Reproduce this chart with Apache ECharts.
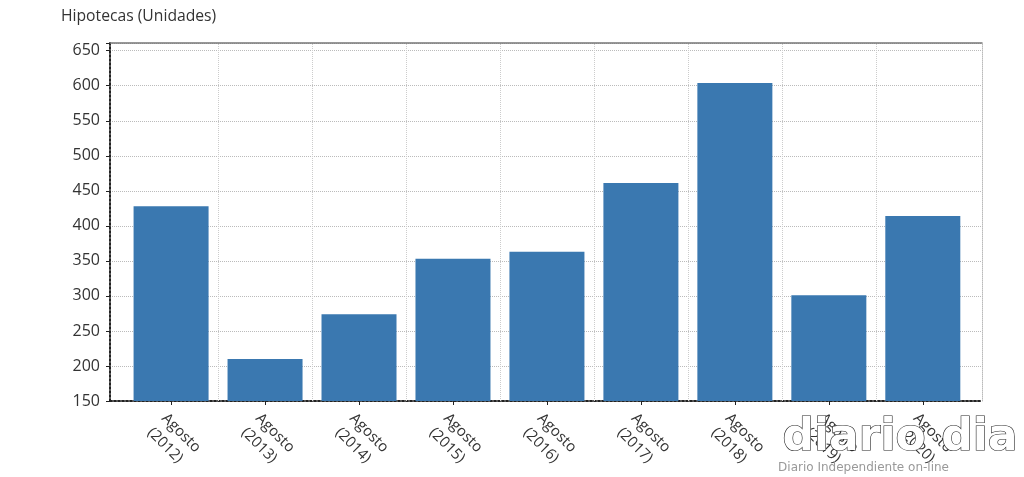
<!DOCTYPE html>
<html>
<head>
<meta charset="utf-8">
<script src="https://cdn.jsdelivr.net/npm/echarts@6/dist/echarts.min.js"></script>
<style>
    html, body { margin: 0; padding: 0; background: #fff; }
    #chart { width: 1024px; height: 477px; }
</style>
</head>
<body>
<div id="chart"></div>
<script>
// datos
const categorias = ['Agosto\n(2012)', 'Agosto\n(2013)', 'Agosto\n(2014)', 'Agosto\n(2015)', 'Agosto\n(2016)',
    'Agosto\n(2017)', 'Agosto\n(2018)', 'Agosto\n(2019)', 'Agosto\n(2020)']
const hipotecas = [428, 210, 274, 353, 363, 461, 604, 301, 414]
const posiciones = [0, 1, 2, 3, 4, 5, 6, 7, 8]
const separadores = [0.5, 1.5, 2.5, 3.5, 4.5, 5.5, 6.5, 7.5]

const myChart = echarts.init(document.getElementById('chart'))
const fontColor = '#333'
const fuente = '"Open Sans", "Noto Sans", sans-serif'

const option = {
    backgroundColor: '#fff',
    animation: false,
    textStyle: { fontFamily: fuente },
    title: {
        text: 'Hipotecas (Unidades)',
        left: 56,
        top: 4,
        textStyle: { fontSize: 15.7, fontWeight: 'normal', color: fontColor, fontFamily: fuente }
    },
    grid: { left: 110, right: 42, top: 43, bottom: 76 },
    xAxis: [
        {
            type: 'value',
            min: -0.65,
            max: 8.63,
            axisLine: { show: true, onZero: false, lineStyle: { color: '#222', type: 'dotted', width: 2 } },
            axisTick: { show: true, customValues: posiciones, length: 4, lineStyle: { color: '#222' } },
            axisLabel: {
                customValues: posiciones,
                rotate: -45,
                color: fontColor,
                fontSize: 15,
                lineHeight: 20,
                margin: 8,
                verticalAlign: 'top',
                formatter: v => categorias[Math.round(v)]
            },
            splitLine: { show: false }
        },
        {
            type: 'value',
            position: 'top',
            min: -0.65,
            max: 8.63,
            axisLine: { show: true, onZero: false, lineStyle: { color: '#777', width: 1.5 } },
            axisTick: { show: false },
            axisLabel: { show: false },
            splitLine: { show: false }
        }
    ],
    yAxis: [
        {
            type: 'value',
            min: 150,
            max: 661,
            interval: 50,
            axisLine: { show: true, onZero: false, lineStyle: { color: '#222', type: 'dotted', width: 2 } },
            axisTick: { show: true, length: 4, lineStyle: { color: '#222' } },
            axisLabel: {
                color: fontColor,
                fontSize: 16,
                margin: 10,
                formatter: v => (v % 50 === 0 ? String(v) : '')
            },
            splitLine: { show: true, lineStyle: { color: '#bbb', type: 'dotted' } }
        },
        {
            type: 'value',
            position: 'right',
            min: 150,
            max: 661,
            axisLine: { show: true, onZero: false, lineStyle: { color: '#bbb', type: 'dotted' } },
            axisTick: { show: false },
            axisLabel: { show: false },
            splitLine: { show: false }
        }
    ],
    series: [
        {
            name: 'Hipotecas',
            type: 'bar',
            barWidth: 75,
            itemStyle: { color: '#3a78b0' },
            data: posiciones.map((p, i) => [p, hipotecas[i]]),
            markLine: {
                silent: true,
                symbol: 'none',
                label: { show: false },
                lineStyle: { color: '#ccc', type: 'dotted', width: 1 },
                data: separadores.map(s => ({ xAxis: s }))
            },
            z: 2
        }
    ],
    graphic: [
        {
            type: 'text',
            right: 6,
            bottom: 16,
            z: 10,
            style: {
                text: 'diario dia',
                font: 'bold 44px "DejaVu Sans", sans-serif',
                fill: '#fff',
                stroke: '#222',
                lineWidth: 1.2
            }
        },
        {
            type: 'text',
            right: 75,
            bottom: 3,
            z: 10,
            style: {
                text: 'Diario Independiente on-line',
                font: '12px "DejaVu Sans", sans-serif',
                fill: '#999'
            }
        }
    ]
}
myChart.setOption(option)
</script>
</body>
</html>
